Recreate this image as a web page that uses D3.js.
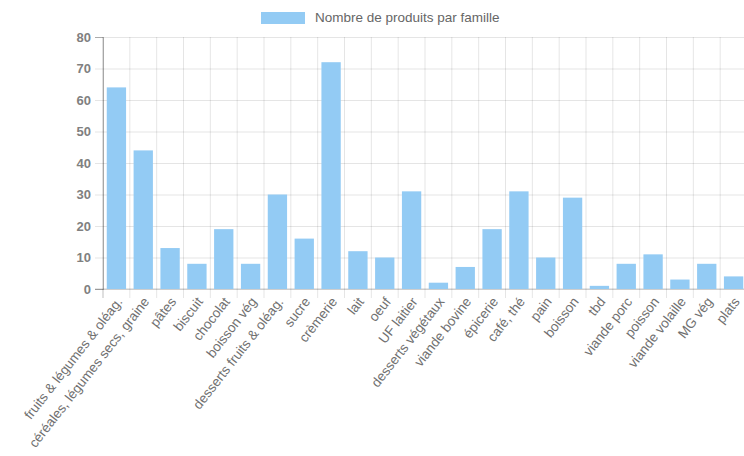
<!DOCTYPE html>
<html>
<head>
<meta charset="utf-8">
<script src="https://cdn.jsdelivr.net/npm/d3@7"></script>
<style>
	body { margin: 0; background: #fff; }
	svg { display: block; }
	text { font-family: "Liberation Sans", Arial, sans-serif; fill: #666; }
</style>
</head>
<body>
<svg id="chart" width="744" height="456"></svg>
<script>
/////////////////////////////////////////////////////////
/////////////////-----DATA-----//////////////////////////
/////////////////////////////////////////////////////////
let familles = [
	'fruits & légumes & oléag.', 'céréales, légumes secs, graine', 'pâtes', 'biscuit',
	'chocolat', 'boisson vég', 'desserts fruits & oléag.', 'sucre', 'crèmerie', 'lait',
	'oeuf', 'UF laitier', 'desserts végétaux', 'viande bovine', 'épicerie', 'café, thé',
	'pain', 'boisson', 'tbd', 'viande porc', 'poisson', 'viande volaille', 'MG vég', 'plats'
];
let nbProduits = [64, 44, 13, 8, 19, 8, 30, 16, 72, 12, 10, 31, 2, 7, 19, 31, 10, 29, 1, 8, 11, 3, 8, 4];
let yTicks = [0, 10, 20, 30, 40, 50, 60, 70, 80];
let legendLabel = 'Nombre de produits par famille';

/////////////////////////////////////////////////////////
///////////////-----BARCHART-----////////////////////////
/////////////////////////////////////////////////////////
let plot = { left: 103, right: 747, top: 37, bottom: 289 };
let barColor = '#93cbf4';
let gridColor = 'rgba(0,0,0,0.1)';

let svg = d3.select('#chart');

let x = d3.scaleBand().domain(familles).range([plot.left, plot.right]).paddingInner(0).paddingOuter(0);
let y = d3.scaleLinear().domain([0, 80]).range([plot.bottom, plot.top]);

// horizontal grid + y ticks
let yAxis = svg.append('g')
	.attr('transform', 'translate(' + plot.left + ',0)')
	.call(d3.axisLeft(y).tickValues(yTicks).tickSize(8).tickPadding(4));
yAxis.select('.domain').attr('stroke', 'rgba(0,0,0,0.25)');
yAxis.selectAll('.tick line').attr('stroke', gridColor)
	.attr('x1', -8).attr('x2', plot.right - plot.left);
yAxis.selectAll('.tick text')
	.attr('font-size', 13).attr('font-weight', 'bold')
	.attr('font-family', '"Liberation Sans", Arial, sans-serif')
	.style('fill', '#808080');

// vertical grid + x ticks (lines at band edges)
let edges = familles.map(function(d) { return x(d); }).concat([plot.right]);
svg.append('g').selectAll('line').data(edges.slice(1)).enter().append('line')
	.attr('x1', function(d) { return d; }).attr('x2', function(d) { return d; })
	.attr('y1', plot.top).attr('y2', plot.bottom + 9)
	.attr('stroke', gridColor);
svg.append('line')
	.attr('x1', plot.left - 8).attr('x2', plot.right)
	.attr('y1', plot.bottom).attr('y2', plot.bottom)
	.attr('stroke', 'rgba(0,0,0,0.2)');
svg.append('line')
	.attr('x1', plot.left).attr('x2', plot.left)
	.attr('y1', plot.top).attr('y2', plot.bottom + 9)
	.attr('stroke', 'rgba(0,0,0,0.25)');

// bars
let barW = x.bandwidth() * 0.72;
svg.append('g').selectAll('rect').data(nbProduits).enter().append('rect')
	.attr('x', function(d, i) { return x(familles[i]) + (x.bandwidth() - barW) / 2; })
	.attr('width', barW)
	.attr('y', function(d) { return y(d); })
	.attr('height', function(d) { return y(0) - y(d); })
	.attr('fill', barColor);

// x labels, rotated
svg.append('g').selectAll('text').data(familles).enter().append('text')
	.attr('transform', function(d) {
		return 'translate(' + (x(d) + x.bandwidth() / 2 + 3) + ',' + (plot.bottom + 10) + ') rotate(-52)';
	})
	.attr('text-anchor', 'end')
	.attr('dy', '0.35em')
	.attr('font-size', 13.5)
	.style('fill', '#707070')
	.text(function(d) { return d; });

// legend
svg.append('rect')
	.attr('x', 261).attr('y', 12).attr('width', 44).attr('height', 12)
	.attr('fill', barColor);
svg.append('text')
	.attr('x', 315).attr('y', 22)
	.attr('font-size', 13.5)
	.text(legendLabel);
</script>
</body>
</html>
